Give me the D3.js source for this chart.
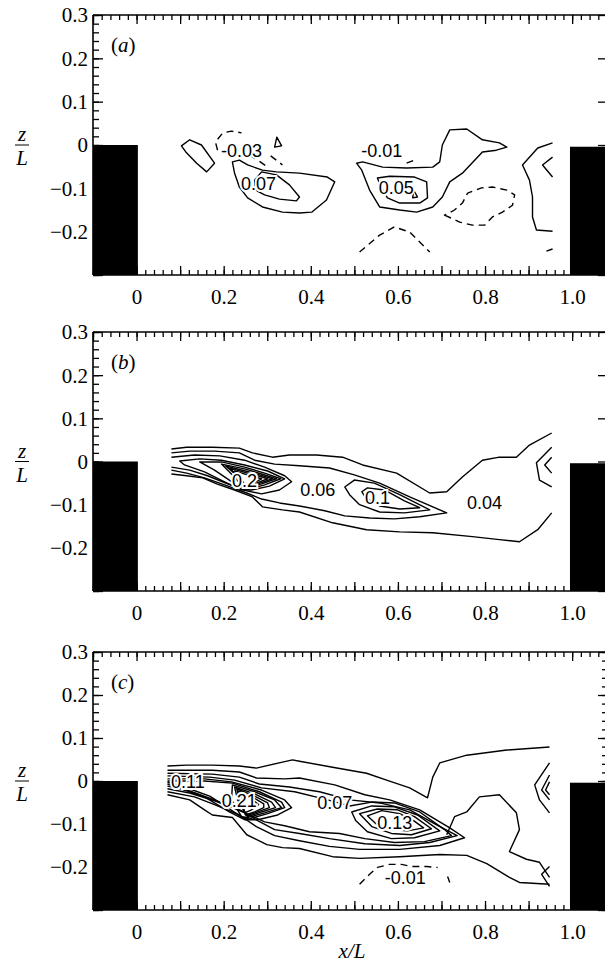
<!DOCTYPE html>
<html><head><meta charset="utf-8">
<script src="https://cdn.jsdelivr.net/npm/d3@7"></script>
<style>body{margin:0;background:#fff}svg{display:block}</style>
</head><body><svg id="chart" width="605" height="968"></svg>
<script>
// ---------- axis data ----------
const xMajorTicks = [-0.1,0,0.1,0.2,0.3,0.4,0.5,0.6,0.7,0.8,0.9,1.0];
const xLabelTicks = [0,0.2,0.4,0.6,0.8,1.0];
const xTickLabels = ["0","0.2","0.4","0.6","0.8","1.0"];
const zMajorTicks = [-0.3,-0.2,-0.1,0,0.1,0.2,0.3];
const zLabelTicks = [0.3,0.2,0.1,0,-0.1,-0.2];
const zTickLabels = ["0.3","0.2","0.1","0","\u22120.1","\u22120.2"];
const panelNames = ["a","b","c"];
const leftBlock = {x0:-0.1, x1:0.003, ztop:0};
const rightBlock = {x0:0.995, x1:1.08, ztop:-0.004};

// ---------- contour data: [x/L, z/L] ----------
const contoursA = [
 {lv:-0.05,d:0,c:1,p:[[0.103,-0.002],[0.122,0.012],[0.149,0.0],[0.179,-0.042],[0.161,-0.062],[0.138,-0.042],[0.113,-0.016]]},
 {lv:-0.03,d:1,c:0,p:[[0.186,-0.012],[0.181,0.007],[0.198,0.028],[0.218,0.032],[0.241,0.028]]},
 {lv:-0.03,d:1,c:0,p:[[0.259,-0.023],[0.278,-0.035],[0.301,-0.051]]},
 {lv:-0.03,d:1,c:0,p:[[0.308,-0.025],[0.335,-0.046]]},
 {lv:0.01,d:0,c:1,p:[[0.322,0.018],[0.317,-0.005],[0.333,-0.002]]},
 {lv:0.05,d:0,c:1,p:[[0.220,-0.039],[0.236,-0.035],[0.255,-0.046],[0.289,-0.058],[0.321,-0.062],[0.374,-0.065],[0.438,-0.074],[0.455,-0.085],[0.436,-0.127],[0.402,-0.155],[0.374,-0.157],[0.335,-0.155],[0.289,-0.143],[0.255,-0.122],[0.236,-0.097],[0.225,-0.065]]},
 {lv:0.07,d:0,c:1,p:[[0.287,-0.062],[0.321,-0.069],[0.351,-0.092],[0.374,-0.120],[0.367,-0.129],[0.328,-0.125],[0.294,-0.115],[0.273,-0.104],[0.271,-0.081]]},
 {lv:0.01,d:0,c:1,p:[[0.505,-0.042],[0.519,-0.039],[0.565,-0.051],[0.620,-0.053],[0.680,-0.051],[0.696,-0.039],[0.702,0.0],[0.719,0.035],[0.758,0.037],[0.794,0.012],[0.833,0.005],[0.850,-0.005],[0.826,-0.012],[0.794,-0.016],[0.781,-0.030],[0.748,-0.065],[0.719,-0.085],[0.702,-0.120],[0.680,-0.143],[0.643,-0.155],[0.604,-0.150],[0.558,-0.143],[0.535,-0.104],[0.517,-0.058]]},
 {lv:0.05,d:0,c:1,p:[[0.553,-0.076],[0.581,-0.072],[0.638,-0.074],[0.666,-0.085],[0.668,-0.122],[0.650,-0.134],[0.604,-0.134],[0.576,-0.122],[0.562,-0.099]]},
 {lv:0.07,d:0,c:1,p:[[0.636,-0.104],[0.645,-0.120],[0.634,-0.122]]},
 {lv:-0.01,d:1,c:1,p:[[0.707,-0.162],[0.723,-0.169],[0.742,-0.178],[0.771,-0.185],[0.799,-0.185],[0.817,-0.166],[0.840,-0.155],[0.863,-0.139],[0.868,-0.115],[0.850,-0.104],[0.817,-0.097],[0.792,-0.099],[0.760,-0.111],[0.748,-0.134],[0.730,-0.150]]},
 {lv:-0.01,d:1,c:0,p:[[0.512,-0.247],[0.558,-0.208],[0.592,-0.189],[0.627,-0.201],[0.673,-0.247]]},
 {lv:-0.01,d:1,c:0,p:[[0.620,-0.042],[0.638,-0.035]]},
 {lv:0.01,d:0,c:0,p:[[0.955,0.005],[0.921,-0.007],[0.886,-0.046],[0.902,-0.081],[0.909,-0.120],[0.909,-0.166],[0.918,-0.196],[0.955,-0.199]]},
 {lv:0.03,d:0,c:0,p:[[0.955,-0.028],[0.932,-0.046],[0.955,-0.074]]},
 {lv:-0.01,d:1,c:0,p:[[0.941,-0.245],[0.955,-0.240]]}
];
const labelsA = [
 {t:"-0.03",x:0.241,z:-0.012},{t:"0.07",x:0.280,z:-0.088},
 {t:"-0.01",x:0.563,z:-0.012},{t:"0.05",x:0.596,z:-0.097}
];

const contoursB = [
 {lv:0.04,d:0,c:0,p:[[0.080,0.029],[0.115,0.033],[0.174,0.033],[0.236,0.031],[0.266,0.020],[0.312,0.010],[0.351,0.015],[0.413,0.015],[0.473,0.010],[0.519,-0.008],[0.597,-0.027],[0.673,-0.073],[0.712,-0.070],[0.748,-0.036],[0.794,0.003],[0.833,0.010],[0.872,0.010],[0.902,0.038],[0.953,0.066]]},
 {lv:0.04,d:0,c:0,p:[[0.080,-0.029],[0.115,-0.033],[0.152,-0.038],[0.184,-0.052],[0.225,-0.066],[0.266,-0.082],[0.289,-0.105],[0.335,-0.112],[0.374,-0.117],[0.450,-0.142],[0.528,-0.158],[0.604,-0.163],[0.680,-0.165],[0.771,-0.174],[0.833,-0.181],[0.879,-0.186],[0.921,-0.158],[0.953,-0.119]]},
 {lv:0.06,d:0,c:0,p:[[0.080,0.020],[0.122,0.024],[0.179,0.024],[0.236,0.020],[0.271,0.003],[0.317,-0.006],[0.374,-0.010],[0.443,-0.015],[0.500,-0.031],[0.558,-0.050],[0.627,-0.082],[0.712,-0.119],[0.650,-0.128],[0.592,-0.133],[0.535,-0.131],[0.478,-0.126],[0.432,-0.114],[0.374,-0.103],[0.328,-0.096],[0.287,-0.087],[0.253,-0.073],[0.202,-0.054],[0.156,-0.038],[0.115,-0.027],[0.080,-0.020]]},
 {lv:0.08,d:0,c:0,p:[[0.080,0.010],[0.133,0.015],[0.191,0.013],[0.248,0.003],[0.294,-0.013],[0.340,-0.033],[0.356,-0.047],[0.328,-0.066],[0.287,-0.075],[0.253,-0.068],[0.209,-0.052],[0.163,-0.033],[0.122,-0.020],[0.080,-0.013]]},
 {lv:0.08,d:0,c:1,p:[[0.500,-0.043],[0.546,-0.050],[0.604,-0.077],[0.673,-0.112],[0.615,-0.119],[0.558,-0.117],[0.512,-0.100],[0.489,-0.077],[0.478,-0.059]]},
 {lv:0.10,d:0,c:1,p:[[0.530,-0.061],[0.569,-0.066],[0.615,-0.091],[0.650,-0.107],[0.604,-0.110],[0.558,-0.103],[0.526,-0.084],[0.517,-0.070]]},
 {lv:0.10,d:0,c:1,p:[[0.099,0.001],[0.145,0.006],[0.195,0.003],[0.248,-0.008],[0.301,-0.022],[0.340,-0.040],[0.305,-0.057],[0.264,-0.066],[0.241,-0.066],[0.202,-0.047],[0.156,-0.024],[0.110,-0.008]]},
 {lv:0.12,d:0,c:1,p:[[0.145,-0.001],[0.195,-0.001],[0.248,-0.013],[0.294,-0.027],[0.331,-0.040],[0.294,-0.054],[0.259,-0.064],[0.243,-0.064],[0.213,-0.043],[0.179,-0.020]]},
 {lv:0.14,d:0,c:1,p:[[0.195,-0.006],[0.248,-0.017],[0.287,-0.029],[0.321,-0.040],[0.287,-0.052],[0.255,-0.061],[0.246,-0.064],[0.227,-0.038]]},
 {lv:0.16,d:0,c:1,p:[[0.204,-0.010],[0.250,-0.022],[0.282,-0.031],[0.312,-0.040],[0.278,-0.052],[0.250,-0.061],[0.234,-0.036]]},
 {lv:0.18,d:0,c:1,p:[[0.213,-0.015],[0.255,-0.027],[0.278,-0.033],[0.301,-0.040],[0.271,-0.052],[0.250,-0.061],[0.239,-0.038]]},
 {lv:0.20,d:0,c:1,p:[[0.225,-0.022],[0.255,-0.031],[0.287,-0.040],[0.264,-0.052],[0.250,-0.059],[0.241,-0.040]]},
 {lv:0.04,d:0,c:0,p:[[0.953,0.033],[0.918,-0.003],[0.925,-0.043],[0.953,-0.059]]},
 {lv:0.06,d:0,c:0,p:[[0.953,0.010],[0.937,-0.008],[0.953,-0.027]]}
];
const labelsB = [
 {t:"0.2",x:0.248,z:-0.045},{t:"0.06",x:0.416,z:-0.064},
 {t:"0.1",x:0.553,z:-0.084},{t:"0.04",x:0.799,z:-0.096}
];

const contoursC = [
 {lv:0.01,d:0,c:0,p:[[0.071,0.035],[0.115,0.037],[0.174,0.037],[0.236,0.035],[0.275,0.030],[0.335,0.044],[0.358,0.049],[0.374,0.046],[0.450,0.032],[0.528,0.018],[0.574,0.002],[0.627,-0.016],[0.668,-0.039],[0.680,0.009],[0.696,0.042],[0.758,0.060],[0.850,0.072],[0.948,0.079]]},
 {lv:0.01,d:0,c:0,p:[[0.071,-0.032],[0.122,-0.044],[0.156,-0.067],[0.174,-0.079],[0.220,-0.085],[0.253,-0.125],[0.299,-0.148],[0.335,-0.155],[0.374,-0.157],[0.450,-0.176],[0.512,-0.180],[0.604,-0.176],[0.696,-0.171],[0.758,-0.173],[0.804,-0.192],[0.856,-0.224],[0.879,-0.236],[0.948,-0.240]]},
 {lv:0.03,d:0,c:0,p:[[0.071,0.025],[0.174,0.025],[0.236,0.021],[0.275,0.007],[0.340,0.005],[0.374,0.007],[0.455,-0.009],[0.524,-0.032],[0.581,-0.044],[0.650,-0.067],[0.719,-0.109],[0.753,-0.132],[0.696,-0.150],[0.604,-0.159],[0.512,-0.159],[0.443,-0.152],[0.374,-0.139],[0.317,-0.127],[0.275,-0.106],[0.236,-0.079],[0.179,-0.055],[0.133,-0.037],[0.071,-0.025]]},
 {lv:0.05,d:0,c:0,p:[[0.071,0.018],[0.174,0.016],[0.236,0.009],[0.282,-0.007],[0.351,-0.014],[0.420,-0.025],[0.489,-0.044],[0.558,-0.051],[0.627,-0.067],[0.692,-0.104],[0.736,-0.127],[0.673,-0.143],[0.604,-0.150],[0.524,-0.146],[0.443,-0.134],[0.374,-0.122],[0.317,-0.113],[0.278,-0.092],[0.241,-0.069],[0.179,-0.046],[0.122,-0.028],[0.071,-0.018]]},
 {lv:0.07,d:0,c:0,p:[[0.071,0.012],[0.168,0.009],[0.225,0.002],[0.287,-0.016],[0.363,-0.025],[0.432,-0.042],[0.489,-0.058],[0.540,-0.049],[0.592,-0.051],[0.650,-0.072],[0.707,-0.113],[0.723,-0.127],[0.661,-0.141],[0.592,-0.143],[0.524,-0.134],[0.466,-0.122],[0.397,-0.118],[0.340,-0.104],[0.294,-0.095],[0.259,-0.079],[0.236,-0.069],[0.179,-0.044],[0.122,-0.023],[0.071,-0.012]]},
 {lv:0.09,d:0,c:1,p:[[0.494,-0.072],[0.540,-0.058],[0.592,-0.060],[0.645,-0.079],[0.696,-0.116],[0.638,-0.132],[0.585,-0.134],[0.530,-0.118],[0.503,-0.092]]},
 {lv:0.11,d:0,c:1,p:[[0.512,-0.076],[0.553,-0.065],[0.599,-0.067],[0.638,-0.083],[0.677,-0.111],[0.631,-0.125],[0.585,-0.122],[0.540,-0.106]]},
 {lv:0.13,d:0,c:1,p:[[0.530,-0.081],[0.563,-0.069],[0.604,-0.076],[0.636,-0.092],[0.659,-0.109],[0.622,-0.116],[0.581,-0.113],[0.549,-0.099]]},
 {lv:0.09,d:0,c:0,p:[[0.071,0.005],[0.156,0.005],[0.218,-0.002],[0.287,-0.021],[0.340,-0.044],[0.356,-0.062],[0.324,-0.079],[0.278,-0.090],[0.248,-0.090],[0.213,-0.072],[0.156,-0.037],[0.110,-0.021],[0.071,-0.007]]},
 {lv:0.11,d:0,c:0,p:[[0.071,0.0],[0.156,0.0],[0.220,-0.005],[0.282,-0.025],[0.333,-0.049],[0.340,-0.062],[0.301,-0.076],[0.259,-0.088],[0.243,-0.085],[0.209,-0.062],[0.168,-0.035],[0.110,-0.014],[0.071,-0.003]]},
 {lv:0.13,d:0,c:1,p:[[0.220,-0.009],[0.271,-0.025],[0.317,-0.044],[0.333,-0.062],[0.294,-0.074],[0.255,-0.085],[0.241,-0.083],[0.218,-0.044]]},
 {lv:0.15,d:0,c:1,p:[[0.225,-0.014],[0.271,-0.030],[0.310,-0.049],[0.319,-0.062],[0.287,-0.072],[0.255,-0.083],[0.232,-0.044]]},
 {lv:0.17,d:0,c:1,p:[[0.230,-0.018],[0.271,-0.035],[0.301,-0.051],[0.305,-0.062],[0.278,-0.072],[0.253,-0.081],[0.236,-0.046]]},
 {lv:0.19,d:0,c:1,p:[[0.234,-0.023],[0.269,-0.039],[0.292,-0.053],[0.292,-0.062],[0.271,-0.072],[0.250,-0.079],[0.239,-0.049]]},
 {lv:0.21,d:0,c:1,p:[[0.239,-0.028],[0.267,-0.044],[0.280,-0.055],[0.264,-0.067],[0.248,-0.074],[0.241,-0.051]]},
 {lv:0.03,d:0,c:0,p:[[0.712,-0.125],[0.730,-0.083],[0.758,-0.072],[0.787,-0.037],[0.833,-0.032],[0.872,-0.074],[0.879,-0.113],[0.856,-0.164],[0.895,-0.182],[0.925,-0.189],[0.948,-0.224]]},
 {lv:0.03,d:0,c:0,p:[[0.948,0.042],[0.914,-0.009],[0.925,-0.044],[0.948,-0.074]]},
 {lv:0.05,d:0,c:0,p:[[0.948,0.014],[0.930,-0.021],[0.948,-0.044]]},
 {lv:0.07,d:0,c:0,p:[[0.948,-0.002],[0.939,-0.021],[0.948,-0.032]]},
 {lv:0.03,d:0,c:0,p:[[0.948,-0.199],[0.930,-0.217],[0.948,-0.245]]},
 {lv:-0.01,d:1,c:0,p:[[0.512,-0.240],[0.535,-0.217],[0.553,-0.201],[0.581,-0.194],[0.608,-0.194],[0.634,-0.199],[0.666,-0.199],[0.691,-0.201]]},
 {lv:-0.01,d:1,c:0,p:[[0.714,-0.222],[0.719,-0.236]]}
];
const labelsC = [
 {t:"0.11",x:0.118,z:-0.002},{t:"0.21",x:0.236,z:-0.046},
 {t:"0.07",x:0.455,z:-0.051},{t:"0.13",x:0.593,z:-0.097},
 {t:"-0.01",x:0.617,z:-0.224}
];

// ---------- layout ----------
const layout = [
 {top:15, bottom:275, rightMinor:false, contours:contoursA, labels:labelsA},
 {top:332, bottom:591, rightMinor:false, contours:contoursB, labels:labelsB},
 {top:652, bottom:910, rightMinor:true, contours:contoursC, labels:labelsC}
];
const serif = "Liberation Serif, Times New Roman, serif";
const sans = "Liberation Sans, Arial, sans-serif";
const svg = d3.select("#chart");
const x = d3.scaleLinear().domain([-0.1, 1.08]).range([93, 607]);
const minorX = d3.range(-50, 55).map(i => +(i*0.02).toFixed(2)).filter(v => v >= -0.1 && v <= 1.08);
const minorZ = d3.range(-15, 16).map(i => +(i*0.02).toFixed(2));
const fmt = (ticks, labels) => d => { const i = ticks.findIndex(v => Math.abs(v-d) < 1e-9); return i < 0 ? "" : labels[i]; };

layout.forEach((P, pi) => {
  const y = d3.scaleLinear().domain([-0.3, 0.3]).range([P.bottom, P.top]);
  const g = svg.append("g");
  const styleAxis = sel => { sel.select(".domain").remove(); sel.selectAll("line").attr("stroke","#000").attr("stroke-width",1.3); };
  g.append("g").attr("transform",`translate(0,${P.bottom})`).call(d3.axisBottom(x).tickValues(minorX).tickSize(-5).tickFormat("")).call(styleAxis);
  g.append("g").attr("transform",`translate(0,${P.top})`).call(d3.axisTop(x).tickValues(minorX).tickSize(-5).tickFormat("")).call(styleAxis);
  g.append("g").attr("transform",`translate(${x(-0.1)},0)`).call(d3.axisLeft(y).tickValues(minorZ).tickSize(-6).tickFormat("")).call(styleAxis);
  if (P.rightMinor) g.append("g").attr("transform",`translate(${x(1.08)},0)`).call(d3.axisRight(y).tickValues(minorZ).tickSize(-5).tickFormat("")).call(styleAxis);
  const bx = g.append("g").attr("transform",`translate(0,${P.bottom})`)
    .call(d3.axisBottom(x).tickValues(xMajorTicks).tickSize(-9).tickPadding(0).tickFormat(fmt(xLabelTicks, xTickLabels))).call(styleAxis);
  bx.attr("font-family", serif).attr("font-size", 21);
  bx.selectAll("text").style("font-family", serif).style("font-size","21px").attr("fill","#000").attr("y", 29).attr("dy", null);
  g.append("g").attr("transform",`translate(0,${P.top})`).call(d3.axisTop(x).tickValues(xMajorTicks).tickSize(-9).tickFormat("")).call(styleAxis);
  const ly = g.append("g").attr("transform",`translate(${x(-0.1)},0)`)
    .call(d3.axisLeft(y).tickValues(zMajorTicks).tickSize(-10).tickPadding(5).tickFormat(fmt(zLabelTicks, zTickLabels))).call(styleAxis);
  ly.attr("font-family", serif).attr("font-size", 21);
  ly.selectAll("text").style("font-family", serif).style("font-size","21px").attr("fill","#000").attr("dy","0.33em");
  g.append("g").attr("transform",`translate(${x(1.08)},0)`).call(d3.axisRight(y).tickValues(zMajorTicks).tickSize(-9).tickFormat("")).call(styleAxis);
  const fr = g.append("g").attr("stroke","#000").attr("stroke-width",1.6);
  fr.append("line").attr("x1",x(-0.1)).attr("x2",x(1.08)).attr("y1",y(0.3)).attr("y2",y(0.3));
  fr.append("line").attr("x1",x(-0.1)).attr("x2",x(1.08)).attr("y1",y(-0.3)).attr("y2",y(-0.3));
  fr.append("line").attr("x1",x(-0.1)).attr("x2",x(-0.1)).attr("y1",y(0.3)).attr("y2",y(-0.3));

  const lineOpen = d3.line().x(d => x(d[0])).y(d => y(d[1]));
  const lineClosed = d3.line().x(d => x(d[0])).y(d => y(d[1])).curve(d3.curveLinearClosed);
  g.append("g").selectAll("path").data(P.contours).join("path")
    .attr("d", d => (d.c ? lineClosed : lineOpen)(d.p))
    .attr("fill","none").attr("stroke","#000").attr("stroke-width",1.4)
    .attr("stroke-linejoin","round")
    .attr("stroke-dasharray", d => d.d ? "7,5" : null);

  g.append("rect").attr("x", x(leftBlock.x0)).attr("y", y(leftBlock.ztop))
    .attr("width", x(leftBlock.x1)-x(leftBlock.x0)).attr("height", y(-0.3)-y(leftBlock.ztop)).attr("fill","#000");
  g.append("rect").attr("x", x(rightBlock.x0)).attr("y", y(rightBlock.ztop))
    .attr("width", x(rightBlock.x1)-x(rightBlock.x0)).attr("height", y(-0.3)-y(rightBlock.ztop)).attr("fill","#000");

  g.append("g").selectAll("text").data(P.labels).join("text")
    .attr("x", d => x(d.x)).attr("y", d => y(d.z)).attr("dy","0.36em")
    .attr("text-anchor","middle").style("font-family", sans).style("font-size","18px")
    .attr("fill","#000").attr("stroke","#fff").attr("stroke-width",4).attr("paint-order","stroke")
    .text(d => d.t);

  const pl = g.append("text").attr("x", 111).attr("y", P.top + 37).style("font-family", serif).style("font-size","21px");
  pl.append("tspan").text("(");
  pl.append("tspan").attr("font-style","italic").text(panelNames[pi]);
  pl.append("tspan").text(")");

  const y0 = y(0);
  g.append("text").attr("x", 22).attr("y", y0 - 4).attr("text-anchor","middle").style("font-family", serif).attr("font-style","italic").style("font-size","21px").text("z");
  g.append("line").attr("x1", 15).attr("x2", 29).attr("y1", y0).attr("y2", y0).attr("stroke","#000").attr("stroke-width",1);
  g.append("text").attr("x", 22).attr("y", y0 + 20).attr("text-anchor","middle").style("font-family", serif).attr("font-style","italic").style("font-size","21px").text("L");
});

svg.append("text").attr("x", 352).attr("y", 958).attr("text-anchor","middle")
  .style("font-family", serif).attr("font-style","italic").style("font-size","21px").text("x/L");
</script>
</body></html>
